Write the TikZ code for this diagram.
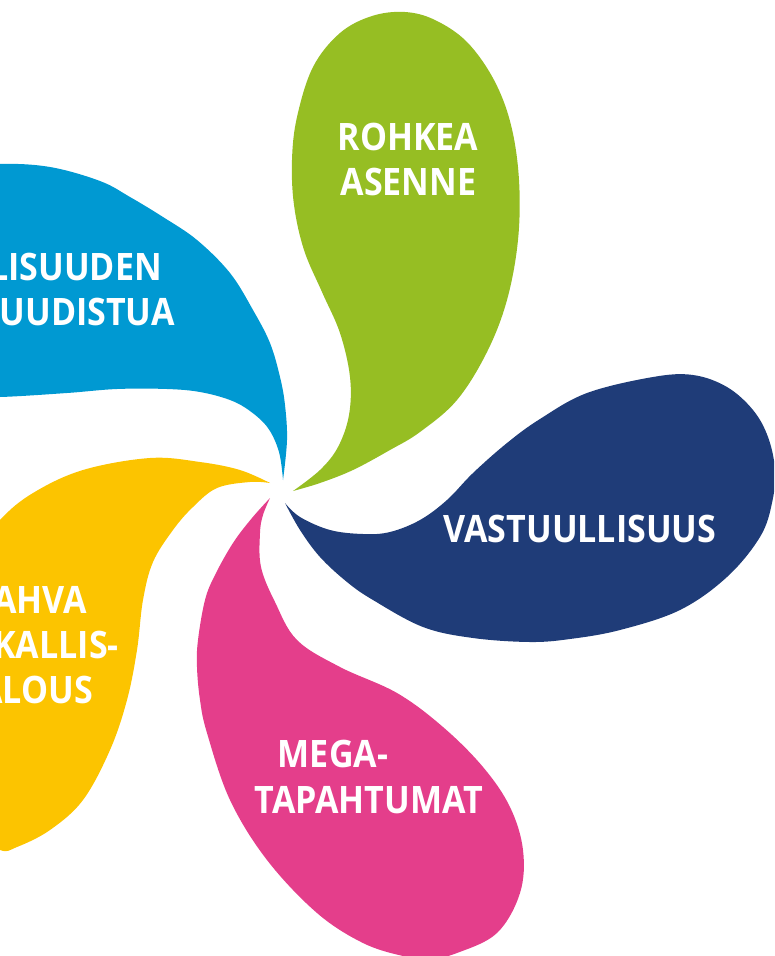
\documentclass[tikz,border=0pt]{standalone}
\usepackage{fontspec}
\newfontfamily\petalfont{Open Sans}[FakeStretch=0.9]
\definecolor{pgreen}{RGB}{150,190,35}
\definecolor{pnavy}{RGB}{31,60,120}
\definecolor{ppink}{RGB}{228,62,139}
\definecolor{pyellow}{RGB}{252,196,0}
\definecolor{pblue}{RGB}{0,153,210}
\tikzset{
  lbl/.style={text=white, inner sep=0pt, font=\petalfont\bfseries\fontsize{37.8}{45.5}\selectfont},
  petalcurve/.style={smooth, tension=0.6}
}
\begin{document}
\begin{tikzpicture}[x=1pt,y=-1pt]
\useasboundingbox (0,0) rectangle (774,956);
\clip (0,0) rectangle (774,956);
% green petal
\fill[pgreen] plot[petalcurve] coordinates {(293,491) (320,483) (353,470) (390,450) (420,432) (457,400) (487,352) (507,300) (518,240) (519,180) (511,125) (494,80) (467,42) (435,20) (405,12) (372,16) (340,33) (313,67) (297,117) (292,160) (294,205) (304,250) (322,292) (340,333) (350,377) (349,415) (338,447) (320,470) (293,491)} -- cycle;
% navy petal
\fill[pnavy] plot[petalcurve] coordinates {(285,503) (300,517) (330,530) (363,534) (390,532) (420,520) (447,500) (473,473) (507,443) (540,419) (587,393) (653,377) (693,375) (727,387) (753,410) (768,437) (775,470) (772,503) (760,537) (727,577) (680,610) (620,630) (570,639) (530,642) (473,638) (423,627) (373,600) (347,582) (320,557) (300,530) (285,503)} -- cycle;
% pink petal
\fill[ppink] plot[petalcurve] coordinates {(270,498) (252,518) (233,543) (215,575) (205,600) (198,640) (197,667) (200,700) (207,733) (230,800) (267,860) (317,913) (363,943) (403,956) (430,959) (457,953) (497,933) (520,893) (523,850) (510,807) (483,767) (443,727) (397,693) (340,667) (297,640) (275,602) (261,567) (260,533) (263,515) (270,498)} -- cycle;
% yellow petal
\fill[pyellow] plot[petalcurve] coordinates {(270,483) (240,470) (200,462) (150,458) (83,470) (33,493) (0,520) (-30,560) (-50,700) (-30,830) (0,850) (17,847) (50,830) (83,800) (110,750) (127,700) (137,650) (143,600) (153,562) (173,530) (193,507) (217,488) (250,482) (270,483)} -- cycle;
% light blue petal
\fill[pblue] plot[petalcurve] coordinates {(283,480) (287,440) (285,405) (280,377) (270,343) (253,310) (230,273) (197,240) (163,217) (130,197) (100,181) (50,167) (0,164) (-40,170) (-60,280) (-40,396) (0,397) (67,393) (117,389) (167,389) (200,392) (230,400) (250,411) (268,428) (279,452) (283,480)} -- cycle;
% labels
\node[lbl, anchor=base] (rohkea) at (408,150) {ROHKEA};
\node[lbl, anchor=base] (asenne) at (408.5,195) {ASENNE};
\node[lbl, anchor=base] (vastuu) at (580,542) {VASTUULLISUUS};
\node[lbl, anchor=base] (mega) at (333,767) {MEGA-};
\node[lbl, anchor=base] (tapaht) at (369,813) {TAPAHTUMAT};
\node[lbl, anchor=base east] (lisuuden) at (162,280) {LISUUDEN};
\node[lbl, anchor=base east] (uudistua) at (175,325) {UUDISTUA};
\node[lbl, anchor=base east] (ahva) at (87,613) {AHVA};
\node[lbl, anchor=base east] (kallis) at (119,658) {KALLIS-};
\node[lbl, anchor=base east] (alous) at (93,703) {ALOUS};
\end{tikzpicture}
\end{document}
